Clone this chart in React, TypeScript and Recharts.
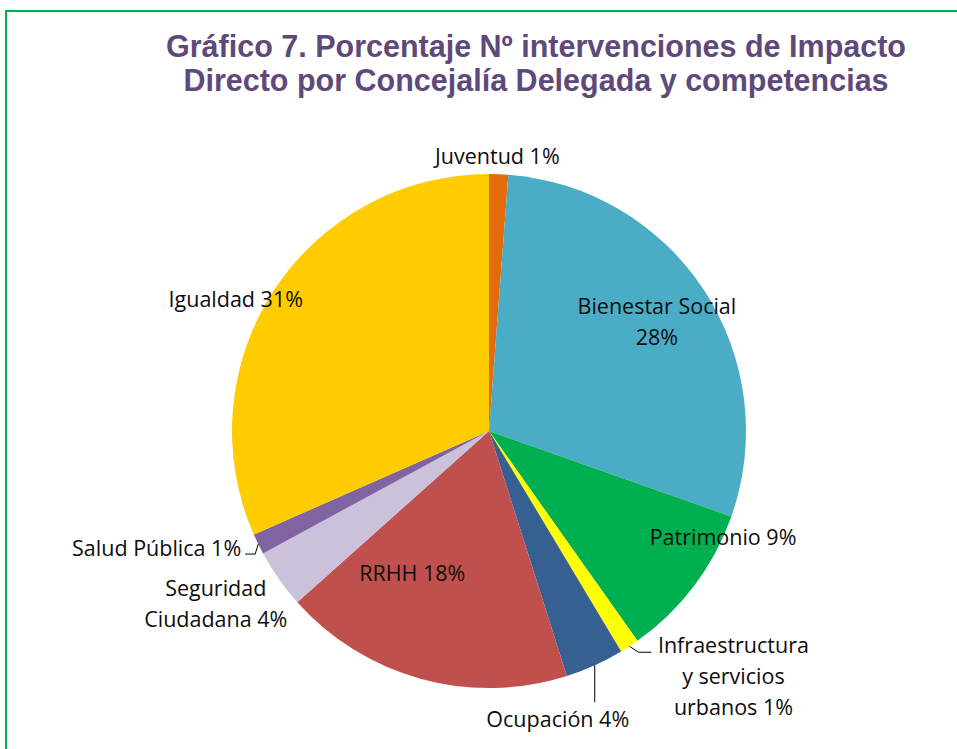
import React from "react";
import { PieChart, Pie, Cell } from "recharts";

// Shares (clockwise from 12 o'clock)
const categories = [
  "Juventud",
  "Bienestar Social",
  "Patrimonio",
  "Infraestructura y servicios urbanos",
  "Ocupación",
  "RRHH",
  "Seguridad Ciudadana",
  "Salud Pública",
  "Igualdad",
];
const shares = [1.2, 29.2, 9.8, 1.2, 3.7, 18.3, 3.7, 1.3, 31.6];
const colors = ["#E36C0A", "#4BACC6", "#00B050", "#FFFF00", "#376092", "#C0504D", "#CCC1DA", "#8064A2", "#FFCC00"];

// label texts as printed on the chart
const labelLines: string[][] = [
  ["Juventud 1%"],
  ["Bienestar Social", "28%"],
  ["Patrimonio 9%"],
  ["Infraestructura", "y servicios", "urbanos 1%"],
  ["Ocupación 4%"],
  ["RRHH 18%"],
  ["Seguridad", "Ciudadana 4%"],
  ["Salud Pública 1%"],
  ["Igualdad 31%"],
];

// label placement: radius factor along mid angle + nudge
const labelRadius = [1.07, 0.78, 1, 1, 1, 0.6, 1, 1, 1];
const labelShift: [number, number][] = [
  [-2, -1], [0, 0], [29, -49], [104, 29], [-37, 53], [-36, -7], [-63, 24], [-17, 3], [-38, 8],
];
const labelAnchor = ["middle", "middle", "middle", "middle", "middle", "middle", "middle", "end", "middle"];
// leader lines, relative to the slice edge point
const leaders: ([number, number][] | null)[] = [
  null, null, null,
  [[0, 0], [9, 6], [22, 6]],
  [[0, 0], [0, 37]],
  null, null,
  [[0, 0], [-3, 10], [-13, 10]],
  null,
];

const data = categories.map((name, i) => ({ name, value: shares[i] }));

const RAD = Math.PI / 180;
const LINE_H = 31;

const renderLabel = (props: any) => {
  const { cx, cy, midAngle, outerRadius, index } = props;
  const cos = Math.cos(-midAngle * RAD);
  const sin = Math.sin(-midAngle * RAD);
  const ex = cx + outerRadius * cos;
  const ey = cy + outerRadius * sin;
  const k = labelRadius[index];
  const x = cx + outerRadius * k * cos + labelShift[index][0];
  const y = cy + outerRadius * k * sin + labelShift[index][1];
  const lines = labelLines[index];
  const y0 = y - ((lines.length - 1) * LINE_H) / 2;
  const lead = leaders[index];
  return (
    <g key={`lbl-${index}`}>
      {lead && (
        <polyline
          points={lead.map(([dx, dy]) => `${ex + dx},${ey + dy}`).join(" ")}
          fill="none"
          stroke="#000"
          strokeWidth={1}
        />
      )}
      <text
        x={x}
        y={y0}
        textAnchor={labelAnchor[index] as any}
        fill="#0d0d0d"
        style={{ fontFamily: "'Open Sans', sans-serif", fontSize: 21.5 }}
      >
        {lines.map((l, j) => (
          <tspan key={j} x={x} y={y0 + j * LINE_H} dominantBaseline="central">
            {l}
          </tspan>
        ))}
      </text>
    </g>
  );
};

export default function App() {
  return (
    <div
      style={{
        position: "absolute",
        left: 0,
        top: 0,
        width: 957,
        height: 749,
        overflow: "hidden",
        background: "#fff",
      }}
    >
      <div
        style={{
          position: "absolute",
          left: 5,
          top: 10,
          width: 1000,
          height: 800,
          border: "2px solid #00B050",
        }}
      />
      <div
        style={{
          position: "absolute",
          left: 0,
          top: 29,
          width: 1072,
          textAlign: "center",
          color: "#5F497A",
          fontFamily: "'Liberation Sans Narrow', 'Arial Narrow', 'Liberation Sans', sans-serif",
          fontWeight: "bold",
          fontSize: 30.5,
          lineHeight: "34px",
        }}
      >
        Gráfico 7. Porcentaje Nº intervenciones de Impacto
        <br />
        Directo por Concejalía Delegada y competencias
      </div>
      <div style={{ position: "absolute", left: 0, top: 0 }}>
        <PieChart width={957} height={749} margin={{ top: 0, right: 0, bottom: 0, left: 0 }}>
          <Pie
            data={data}
            dataKey="value"
            nameKey="name"
            cx={489}
            cy={431}
            outerRadius={257}
            startAngle={90}
            endAngle={-270}
            stroke="none"
            labelLine={false}
            label={renderLabel}
            isAnimationActive={false}
          >
            {data.map((d, i) => (
              <Cell key={d.name} fill={colors[i]} />
            ))}
          </Pie>
        </PieChart>
      </div>
    </div>
  );
}
